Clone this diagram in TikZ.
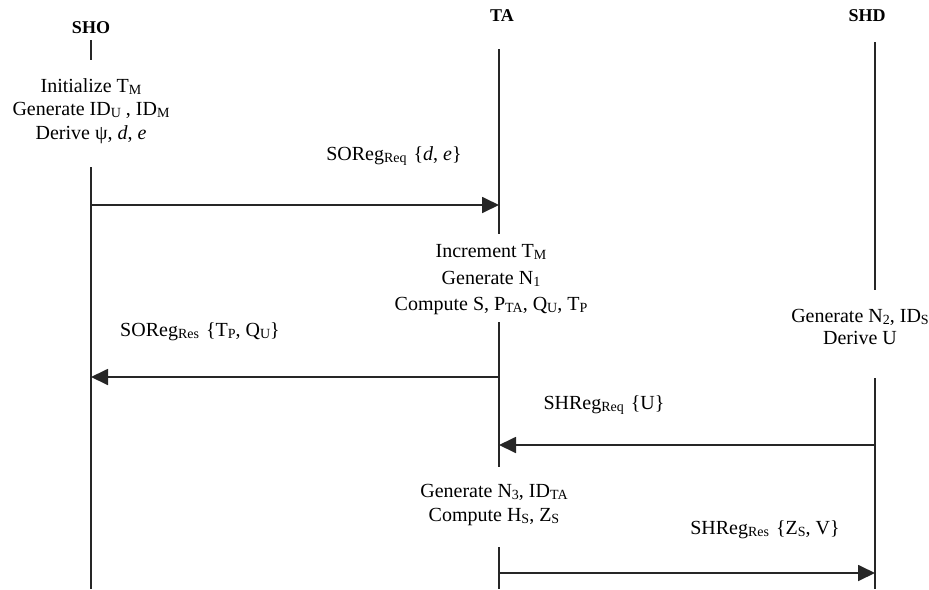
\documentclass[tikz,border=0pt]{standalone}
\usepackage{fontspec}
\setmainfont{Liberation Serif}
\usetikzlibrary{arrows.meta}
% small, slightly lowered index letters
\newcommand\sbs[1]{\raisebox{-2pt}{\fontsize{14}{14}\selectfont #1}}
\begin{document}
\begin{tikzpicture}[x=1pt,y=-1pt,
  font=\fontsize{20}{24}\selectfont,
  life/.style={line width=1.8pt,draw=black!85},
  msg/.style={line width=1.8pt,draw=black!85,-{Triangle[length=17pt,width=16pt]}},
  head/.style={font=\fontsize{18}{20}\selectfont\bfseries,inner sep=0pt},
  block/.style={align=center,inner sep=0pt},
  lbl/.style={inner sep=0pt}]
\useasboundingbox (0,0) rectangle (929,589);
% participants
\node[head] (sho) at (91,28) {SHO};
\node[head] (ta)  at (502,16) {TA};
\node[head] (shd) at (867,16) {SHD};
% lifeline anchor points
\coordinate (sho1) at (91,40);  \coordinate (sho2) at (91,60);
\coordinate (sho3) at (91,167); \coordinate (sho4) at (91,589);
\coordinate (ta1) at (499,49);  \coordinate (ta2) at (499,234);
\coordinate (ta3) at (499,322); \coordinate (ta4) at (499,467);
\coordinate (ta5) at (499,547); \coordinate (ta6) at (499,589);
\coordinate (shd1) at (875,42);  \coordinate (shd2) at (875,290);
\coordinate (shd3) at (875,378); \coordinate (shd4) at (875,589);
\draw[life] (sho1) -- (sho2) (sho3) -- (sho4);
\draw[life] (ta1) -- (ta2) (ta3) -- (ta4) (ta5) -- (ta6);
\draw[life] (shd1) -- (shd2) (shd3) -- (shd4);
% local computations
\node[block,font=\fontsize{20}{23.5}\selectfont] (shoact) at (91,111) {Initialize T\sbs{M}\\Generate ID\sbs{U} , ID\sbs{M}\\Derive ψ, \textit{d}, \textit{e}};
\node[block,font=\fontsize{20}{26.5}\selectfont] (taact1) at (491,280) {Increment T\sbs{M}\\Generate N\sbs{1}\\Compute S, P\sbs{TA}, Q\sbs{U}, T\sbs{P}};
\node[block,font=\fontsize{20}{22}\selectfont] (shdact) at (860,327) {Generate N\sbs{2}, ID\sbs{S}\\Derive U};
\node[block] (taact2) at (494,505) {Generate N\sbs{3}, ID\sbs{TA}\\Compute H\sbs{S}, Z\sbs{S}};
% messages
\coordinate (m1a) at (91,205);  \coordinate (m1b) at (499,205);
\coordinate (m2a) at (499,377); \coordinate (m2b) at (91,377);
\coordinate (m3a) at (875,445); \coordinate (m3b) at (499,445);
\coordinate (m4a) at (499,573); \coordinate (m4b) at (875,573);
\draw[msg] (m1a) -- (m1b);
\draw[msg] (m2a) -- (m2b);
\draw[msg] (m3a) -- (m3b);
\draw[msg] (m4a) -- (m4b);
\node[lbl] (l1) at (394,156) {SOReg\sbs{Req}\hspace{0.35em}\{\textit{d}, \textit{e}\}};
\node[lbl] (l2) at (200,332) {SOReg\sbs{Res}\hspace{0.35em}\{T\sbs{P}, Q\sbs{U}\}};
\node[lbl] (l3) at (604,405) {SHReg\sbs{Req}\hspace{0.35em}\{U\}};
\node[lbl] (l4) at (765,530) {SHReg\sbs{Res}\hspace{0.35em}\{Z\sbs{S}, V\}};
\end{tikzpicture}
\end{document}
